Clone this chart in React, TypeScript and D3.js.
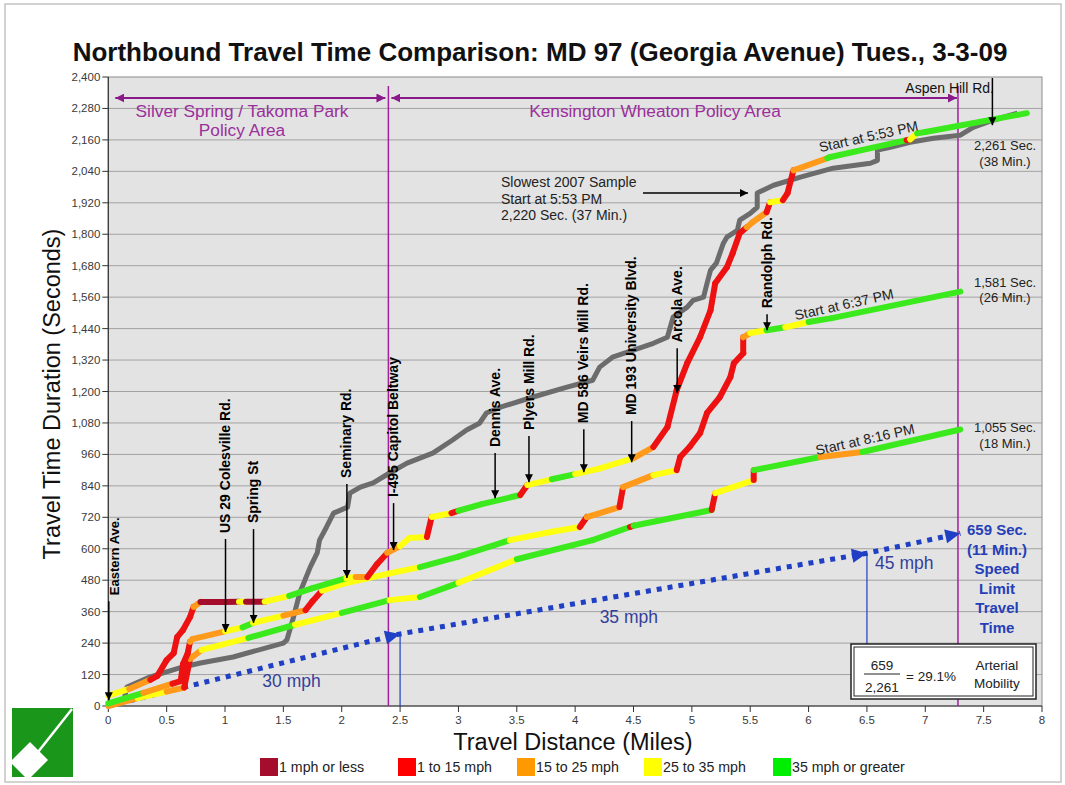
import React from 'react';
import * as d3 from 'd3';

const W = 1065;
const H = 785;

const xTicks = [0, 0.5, 1, 1.5, 2, 2.5, 3, 3.5, 4, 4.5, 5, 5.5, 6, 6.5, 7, 7.5, 8];
const yTicks = d3.range(0, 2401, 120);

const speedLabels = ['1 mph or less', '1 to 15 mph', '15 to 25 mph', '25 to 35 mph', '35 mph or greater'];
const speedColors = ['#a50d2c', '#ee1111', '#ff9a1a', '#ffff10', '#3bea1c'];
const legendColors = ['#a50d2c', '#ff0000', '#ff9900', '#ffff00', '#00ee00'];

// Slowest 2007 sample: [miles, seconds]
const slowest2007: [number, number][] = [
  [0.14, 34], [0.16, 72], [0.36, 111], [0.64, 149], [0.79, 164], [1.07, 187], [1.5, 240],
  [1.53, 252], [1.58, 328], [1.64, 431], [1.73, 530], [1.79, 584], [1.81, 633], [1.87, 683],
  [1.93, 736], [2.05, 759], [2.07, 812], [2.16, 835], [2.27, 851], [2.41, 889], [2.56, 927],
  [2.78, 965], [2.95, 1015], [3.07, 1053], [3.18, 1079], [3.24, 1118], [3.36, 1140],
  [3.64, 1179], [3.93, 1217], [4.15, 1243], [4.21, 1293], [4.32, 1331], [4.5, 1358],
  [4.67, 1384], [4.79, 1407], [4.84, 1484], [4.96, 1522], [5.01, 1548], [5.1, 1560],
  [5.13, 1613], [5.16, 1663], [5.21, 1690], [5.27, 1766], [5.3, 1789], [5.39, 1815],
  [5.41, 1854], [5.5, 1880], [5.56, 1903], [5.56, 1957], [5.61, 1968], [5.7, 1987],
  [5.93, 2018], [6.21, 2052], [6.53, 2071], [6.59, 2082], [6.59, 2121], [6.7, 2132],
  [6.87, 2151], [7.07, 2166], [7.3, 2178], [7.41, 2208], [7.58, 2235], [7.79, 2262],
];

// Runs: [miles, seconds, speed class of the segment ending at this point]
const run553: [number, number, number][] = [
  [0.0, 40, 3], [0.18, 65, 3], [0.36, 100, 2], [0.42, 115, 1], [0.5, 175, 1], [0.56, 202, 1],
  [0.59, 263, 1], [0.64, 290, 1], [0.7, 339, 1], [0.73, 378, 1], [0.79, 397, 2],
  [1.0, 397, 0], [1.12, 398, 0], [1.18, 398, 3], [1.34, 398, 0], [1.55, 420, 3],
  [1.75, 450, 4], [2.04, 488, 4], [2.12, 492, 3], [2.22, 492, 2], [2.3, 540, 1],
  [2.39, 584, 1], [2.5, 610, 2], [2.58, 641, 3], [2.73, 645, 3], [2.77, 721, 1],
  [2.94, 736, 3], [3.0, 745, 1], [3.2, 770, 4], [3.53, 805, 4], [3.59, 843, 1],
  [3.8, 865, 3], [4.0, 885, 4], [4.2, 905, 3], [4.5, 946, 3], [4.67, 988, 2],
  [4.79, 1064, 1], [4.87, 1205, 1], [4.96, 1308, 1], [5.07, 1407, 1], [5.16, 1510, 1],
  [5.2, 1613, 1], [5.3, 1674, 1], [5.35, 1728, 1], [5.41, 1804, 1], [5.47, 1827, 1],
  [5.52, 1846, 2], [5.64, 1884, 2], [5.67, 1922, 1], [5.78, 1930, 3], [5.82, 1957, 1],
  [5.87, 2044, 1], [6.16, 2090, 2], [6.18, 2094, 4], [6.84, 2159, 4], [6.87, 2162, 1],
  [6.93, 2185, 3], [7.0, 2190, 4], [7.87, 2262, 4],
];

const run637: [number, number, number][] = [
  [0.0, 10, 3], [0.3, 50, 4], [0.55, 85, 2], [0.62, 95, 1], [0.64, 160, 1], [0.68, 200, 1],
  [0.7, 245, 1], [0.72, 255, 2], [1.0, 285, 2], [1.15, 300, 3], [1.24, 317, 4],
  [1.5, 345, 3], [1.69, 366, 2], [1.75, 400, 1], [1.83, 440, 1], [2.0, 465, 3],
  [2.4, 505, 3], [2.67, 530, 3], [3.0, 570, 4], [3.44, 633, 4], [3.8, 665, 3],
  [4.04, 683, 3], [4.1, 721, 1], [4.38, 759, 2], [4.41, 835, 1], [4.67, 881, 2],
  [4.87, 900, 3], [4.9, 950, 1], [4.98, 988, 1], [5.07, 1041, 1], [5.13, 1118, 1],
  [5.24, 1179, 1], [5.33, 1255, 1], [5.36, 1308, 1], [5.44, 1346, 1], [5.44, 1407, 1],
  [5.5, 1423, 2], [5.64, 1434, 3], [5.8, 1445, 4], [6.0, 1465, 3], [6.2, 1480, 4],
  [7.3, 1581, 4],
];

const run816: [number, number, number][] = [
  [0.0, 0, 3], [0.25, 30, 2], [0.5, 55, 3], [0.65, 70, 2], [0.7, 180, 1], [0.8, 214, 2],
  [1.2, 260, 3], [1.6, 310, 4], [2.0, 355, 3], [2.41, 404, 4], [2.67, 416, 3],
  [3.0, 470, 4], [3.5, 560, 3], [4.15, 633, 4], [4.47, 683, 4], [4.5, 688, 1],
  [5.17, 748, 4], [5.2, 812, 1], [5.53, 862, 3], [5.53, 900, 1], [6.1, 950, 4],
  [6.46, 969, 2], [7.3, 1055, 4],
];

const speedLimitMiles = [0, 2.5, 6.5, 7.3];
const speedLimitSecs = [0, 275, 583, 659];
const speedLimitTexts = [
  { text: '30 mph', mile: 1.57, sec: 72 },
  { text: '35 mph', mile: 4.46, sec: 316 },
  { text: '45 mph', mile: 6.82, sec: 523 },
];

// Landmarks: name, mile, arrow tip (sec), label base (sec)
const landmarks = [
  { name: 'Eastern Ave.', mile: 0.0, tip: 22, base: 423, shift: 0.05, size: 13 },
  { name: 'US 29 Colesville Rd.', mile: 1.0, tip: 282, base: 660, shift: 0, size: 14 },
  { name: 'Spring St', mile: 1.24, tip: 317, base: 698, shift: 0, size: 14 },
  { name: 'Seminary Rd.', mile: 2.04, tip: 488, base: 870, shift: 0, size: 14 },
  { name: 'I-495 Capitol Beltway', mile: 2.44, tip: 595, base: 797, shift: 0, size: 14 },
  { name: 'Dennis Ave.', mile: 3.31, tip: 793, base: 988, shift: 0, size: 14 },
  { name: 'Plyers Mill Rd.', mile: 3.6, tip: 854, base: 1053, shift: 0, size: 14 },
  { name: 'MD 586 Veirs Mill Rd.', mile: 4.07, tip: 892, base: 1079, shift: 0, size: 14 },
  { name: 'MD 193 University Blvd.', mile: 4.48, tip: 930, base: 1110, shift: 0, size: 14 },
  { name: 'Arcola Ave.', mile: 4.87, tip: 1194, base: 1388, shift: 0, size: 14 },
  { name: 'Randolph Rd.', mile: 5.64, tip: 1434, base: 1518, shift: 0, size: 14 },
];

const runStartLabels = [
  { text: 'Start at 5:53 PM', mile: 6.1, sec: 2113 },
  { text: 'Start at 6:37 PM', mile: 5.89, sec: 1472 },
  { text: 'Start at 8:16 PM', mile: 6.07, sec: 957 },
];

const endLabels = [
  { l1: '2,261 Sec.', l2: '(38 Min.)', sec: 2120 },
  { l1: '1,581 Sec.', l2: '(26 Min.)', sec: 1600 },
  { l1: '1,055 Sec.', l2: '(18 Min.)', sec: 1045 },
];

const speedLimitNote = ['659 Sec.', '(11 Min.)', 'Speed', 'Limit', 'Travel', 'Time'];
const slowestNote = ['Slowest 2007 Sample', 'Start at 5:53 PM', '2,220 Sec. (37 Min.)'];
const policyAreas = [
  { lines: ['Silver Spring / Takoma Park', 'Policy Area'], from: 0, to: 2.4 },
  { lines: ['Kensington Wheaton Policy Area'], from: 2.4, to: 7.28 },
];

const FONT = 'Liberation Sans, Arial, Helvetica, sans-serif';

export default function App() {
  const x = d3.scaleLinear().domain([0, 8]).range([108.3, 1042]);
  const y = d3.scaleLinear().domain([0, 2400]).range([706, 77]);
  const grayLine = d3.line<[number, number]>().x(d => x(d[0])).y(d => y(d[1]));
  const slLine = d3.line<number>().x((d, i) => x(speedLimitMiles[i])).y((d, i) => y(speedLimitSecs[i]));

  const runSegs = (run: [number, number, number][], key: string) =>
    run.slice(1).map((p, i) => (
      <line key={key + i} x1={x(run[i][0])} y1={y(run[i][1])} x2={x(p[0])} y2={y(p[1])}
        stroke={speedColors[p[2]]} strokeWidth={6} strokeLinecap="round" />
    ));

  const blue = '#1f3fc4';
  const blueArrow = (i: number) => {
    const x1 = x(speedLimitMiles[i - 1]), y1 = y(speedLimitSecs[i - 1]);
    const x2 = x(speedLimitMiles[i]), y2 = y(speedLimitSecs[i]);
    const a = Math.atan2(y2 - y1, x2 - x1);
    const L = 15, Wd = 7;
    const bx = x2 - L * Math.cos(a), by = y2 - L * Math.sin(a);
    const pts = [
      [x2, y2],
      [bx + Wd * Math.sin(a), by - Wd * Math.cos(a)],
      [bx - Wd * Math.sin(a), by + Wd * Math.cos(a)],
    ];
    return <polygon key={'ba' + i} points={pts.map(p => p.join(',')).join(' ')} fill={blue} />;
  };

  const purple = '#8a1a8a';
  const purpleText = '#9b2f9b';

  return (
    <svg width={W} height={H} style={{ position: 'absolute', left: 0, top: 0, background: '#fff' }}
      fontFamily={FONT}>
      <defs>
        <marker id="blk" viewBox="0 0 10 10" refX="10" refY="5" markerWidth="8" markerHeight="8"
          markerUnits="userSpaceOnUse" orient="auto">
          <path d="M0,0 L10,5 L0,10 z" fill="#000" />
        </marker>
        <marker id="pur" viewBox="0 0 10 10" refX="10" refY="5" markerWidth="9" markerHeight="9"
          markerUnits="userSpaceOnUse" orient="auto-start-reverse">
          <path d="M0,0 L10,5 L0,10 z" fill={purple} />
        </marker>
      </defs>
      <rect x={5} y={4} width={1056} height={778} fill="#fff" stroke="#c4c4c4" strokeWidth={1.5} />

      {/* Title */}
      <text x={540} y={61} textAnchor="middle" fontSize={26} fontWeight="bold" fill="#111">
        Northbound Travel Time Comparison: MD 97 (Georgia Avenue) Tues., 3-3-09
      </text>

      {/* Plot area */}
      <rect x={x(0)} y={y(2400)} width={x(8) - x(0)} height={y(0) - y(2400)} fill="#e3e3e3" />
      {yTicks.filter(t => t > 0 && t < 2400).map(t => (
        <line key={'g' + t} x1={x(0)} x2={x(8)} y1={y(t)} y2={y(t)} stroke="#a2a2a2" strokeWidth={1} />
      ))}
      <rect x={x(0)} y={y(2400)} width={x(8) - x(0)} height={y(0) - y(2400)} fill="none" stroke="#8c8c8c" strokeWidth={1} />

      {/* Axes */}
      <line x1={x(0)} x2={x(0)} y1={y(0)} y2={y(2400)} stroke="#333" strokeWidth={1.2} />
      <line x1={x(0)} x2={x(8)} y1={y(0)} y2={y(0)} stroke="#333" strokeWidth={1.2} />
      {yTicks.map(t => (
        <g key={'yt' + t}>
          <line x1={x(0) - 6} x2={x(0)} y1={y(t)} y2={y(t)} stroke="#333" />
          <text x={x(0) - 8} y={y(t)} dy="0.35em" textAnchor="end" fontSize={11.5} fill="#3a3a3a">
            {d3.format(',')(t)}
          </text>
        </g>
      ))}
      {xTicks.map(t => (
        <g key={'xt' + t}>
          <line x1={x(t)} x2={x(t)} y1={y(0)} y2={y(0) + 6} stroke="#333" />
          <text x={x(t)} y={y(0) + 18} textAnchor="middle" fontSize={11.5} fill="#3a3a3a">{t}</text>
        </g>
      ))}
      <text transform={`translate(60,${394}) rotate(-90)`} textAnchor="middle" fontSize={23.5} fill="#111">
        Travel Time Duration (Seconds)
      </text>
      <text x={573} y={750} textAnchor="middle" fontSize={23.5} fill="#111">Travel Distance (Miles)</text>

      {/* Policy areas */}
      <line x1={x(2.4)} x2={x(2.4)} y1={86} y2={y(0)} stroke="#a020a0" strokeWidth={1.5} />
      <line x1={x(7.28)} x2={x(7.28)} y1={86} y2={y(0)} stroke="#a020a0" strokeWidth={1.5} />
      {policyAreas.map((p, i) => {
        const x1 = x(p.from) + (i === 0 ? 7 : 3);
        const x2 = x(p.to) - (i === 0 ? 3 : 1);
        const cx = i === 0 ? 242 : 655;
        return (
          <g key={'pa' + i}>
            <line x1={x1} x2={x2} y1={98} y2={98} stroke={purple} strokeWidth={2}
              markerStart="url(#pur)" markerEnd="url(#pur)" />
            {p.lines.map((l, j) => (
              <text key={j} x={cx} y={117 + j * 19} textAnchor="middle" fontSize={17.3} fill={purpleText}>{l}</text>
            ))}
          </g>
        );
      })}

      {/* Speed limit line */}
      <line x1={x(2.5)} x2={x(2.5)} y1={y(0)} y2={y(speedLimitSecs[1])} stroke={blue} strokeWidth={1.2} />
      <line x1={x(6.5)} x2={x(6.5)} y1={644} y2={y(speedLimitSecs[2])} stroke={blue} strokeWidth={1.2} />
      <path d={slLine(speedLimitSecs) || ''} fill="none" stroke={blue} strokeWidth={5} strokeDasharray="5 6" />
      {[1, 2, 3].map(i => blueArrow(i))}
      {speedLimitTexts.map(s => (
        <text key={s.text} x={x(s.mile)} y={y(s.sec)} textAnchor="middle" fontSize={17.5} fill="#33409a">{s.text}</text>
      ))}

      {/* Slowest 2007 */}
      <path d={grayLine(slowest2007) || ''} fill="none" stroke="#6c6c6c" strokeWidth={5} strokeLinejoin="round" />

      {/* Runs */}
      {runSegs(run816, 'c')}
      {runSegs(run637, 'b')}
      {runSegs(run553, 'a')}

      {/* Landmarks */}
      {landmarks.map(m => {
        const ax = x(m.mile) + 0.5;
        const tx = x(m.mile + m.shift);
        const by = y(m.base);
        return (
          <g key={m.name}>
            <text transform={`translate(${tx},${by}) rotate(-90)`} dy="0.36em" fontSize={m.size}
              fontWeight="bold" fill="#000">{m.name}</text>
            <line x1={ax} x2={ax} y1={by + 6} y2={y(m.tip)} stroke="#000" strokeWidth={1.5} markerEnd="url(#blk)" />
          </g>
        );
      })}
      <text x={994} y={93} textAnchor="end" fontSize={14} fill="#111">Aspen Hill Rd.</text>
      <line x1={x(7.575)} x2={x(7.575)} y1={78} y2={y(2216)} stroke="#000" strokeWidth={1.5} markerEnd="url(#blk)" />

      {/* Slowest note */}
      {slowestNote.map((l, i) => (
        <text key={l} x={501} y={187 + i * 16.5} fontSize={14} fill="#222">{l}</text>
      ))}
      <line x1={643} x2={748} y1={193} y2={193} stroke="#000" strokeWidth={1.5} markerEnd="url(#blk)" />

      {/* Run start labels */}
      {runStartLabels.map(s => (
        <text key={s.text} transform={`translate(${x(s.mile)},${y(s.sec)}) rotate(-12.5)`} fontSize={14} fill="#222">{s.text}</text>
      ))}

      {/* End labels */}
      {endLabels.map(e => (
        <g key={e.l1}>
          <text x={1005} y={y(e.sec)} textAnchor="middle" fontSize={13} fill="#222">{e.l1}</text>
          <text x={1005} y={y(e.sec) + 15.5} textAnchor="middle" fontSize={13} fill="#222">{e.l2}</text>
        </g>
      ))}
      {speedLimitNote.map((l, i) => (
        <text key={l} x={997} y={535 + i * 19.6} textAnchor="middle" fontSize={15} fontWeight="bold" fill="#2440b8">{l}</text>
      ))}

      {/* Arterial mobility box */}
      <rect x={851} y={644} width={185} height={55} fill="#fff" stroke="#222" strokeWidth={1.5} />
      <rect x={854} y={647} width={179} height={49} fill="none" stroke="#222" strokeWidth={1} />
      <text x={882} y={670} textAnchor="middle" fontSize={13.5} fill="#222">659</text>
      <line x1={864} x2={900} y1={674} y2={674} stroke="#222" strokeWidth={1} />
      <text x={882} y={692} textAnchor="middle" fontSize={13.5} fill="#222">2,261</text>
      <text x={906} y={681} fontSize={13.5} fill="#222">= 29.1%</text>
      <text x={997} y={670} textAnchor="middle" fontSize={13.5} fill="#222">Arterial</text>
      <text x={997} y={688} textAnchor="middle" fontSize={13.5} fill="#222">Mobility</text>

      {/* Legend */}
      {speedLabels.map((l, i) => {
        const lx = [260, 398, 517, 644, 773][i];
        return (
          <g key={l}>
            <rect x={lx} y={758} width={18} height={18} fill={legendColors[i]} />
            <text x={lx + 19} y={772} fontSize={14.2} fill="#222">{l}</text>
          </g>
        );
      })}

      {/* Logo */}
      <rect x={12} y={708} width={61} height={69} fill="#1a961a" />
      <polygon points="10,762 30,742 48,760 28,780" fill="#fff" />
      <line x1={38} y1={752} x2={72} y2={709} stroke="#fff" strokeWidth={2.5} />
    </svg>
  );
}
